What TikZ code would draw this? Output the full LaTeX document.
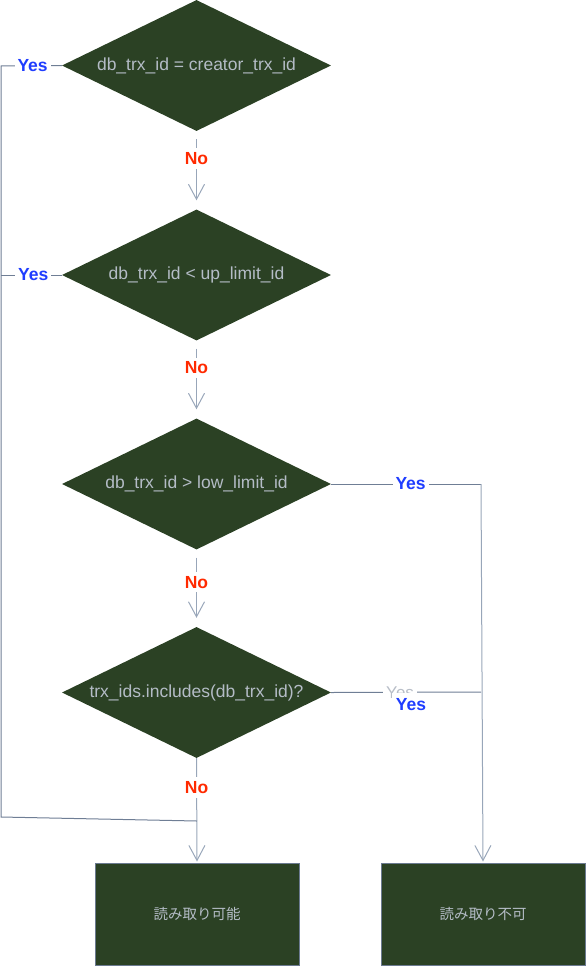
\documentclass[tikz,border=0pt]{standalone}
\usepackage{fontspec}
\setmainfont{Liberation Sans}
\newfontfamily\jpfont{Noto Sans CJK JP}
\usetikzlibrary{shapes.geometric,arrows.meta}
\definecolor{dgreen}{HTML}{2B4124}
\definecolor{txtgray}{HTML}{B4BCC6}
\definecolor{boxedge}{HTML}{6B7A90}
\definecolor{linedark}{HTML}{6F7E95}
\definecolor{linelight}{HTML}{98A6B9}
\definecolor{nored}{HTML}{FF2A00}
\definecolor{yesblue}{HTML}{1F3DFF}
\definecolor{yesgray}{HTML}{B8BEC8}
\begin{document}
\begin{tikzpicture}[x=1pt,y=-1pt,
  dia/.style={diamond,fill=dgreen,inner sep=0pt,minimum width=269pt,minimum height=131pt},
  dtext/.style={text=txtgray,font=\fontsize{17.5}{20}\selectfont,inner sep=0pt},
  box/.style={rectangle,fill=dgreen,draw=boxedge,line width=1pt,minimum width=204pt,minimum height=102pt,text=txtgray,font=\jpfont\fontsize{14.5}{17}\selectfont},
  conn/.style={draw=linedark,line width=1pt},
  arr/.style={draw=linelight,line width=1pt,-{Straight Barb[length=15pt,width=16pt]}},
  nolab/.style={fill=white,text=nored,font=\bfseries\fontsize{17.5}{20}\selectfont,inner sep=4pt},
  yeslab/.style={fill=white,text=yesblue,font=\bfseries\fontsize{17.5}{20}\selectfont,inner sep=3pt},
  yesgraylab/.style={fill=white,text=yesgray,font=\fontsize{17}{20}\selectfont,inner sep=3pt},
]
\useasboundingbox (0,0) rectangle (586,966);

% diamonds
\node[dia] (d1) at (196.5,65.5) {};
\node[dia] (d2) at (196.5,275) {};
\node[dia] (d3) at (196.5,484) {};
\node[dia] (d4) at (196.5,692.5) {};
\node[dtext] (t1) at (d1) {db\_trx\_id = creator\_trx\_id};
\node[dtext] (t2) at (d2) {db\_trx\_id < up\_limit\_id};
\node[dtext] (t3) at (d3) {db\_trx\_id > low\_limit\_id};
\node[dtext] (t4) at (d4) {trx\_ids.includes(db\_trx\_id)?};

% boxes
\node[box] (b1) at (197,914) {読み取り可能};
\node[box] (b2) at (483,914) {読み取り不可};

% coordinates
\coordinate (L1) at (1,66);
\coordinate (L2) at (1,817);
\coordinate (L3) at (1,275);
\coordinate (J) at (197,821);
\coordinate (R1) at (481,484);
\coordinate (R2) at (481,692);

% No edges
\draw[arr,shorten <=8pt,shorten >=9pt] (d1.south) -- node[nolab,pos=0.35] (n1) {No} (d2.north);
\draw[arr,shorten <=8pt,shorten >=9pt] (d2.south) -- node[nolab,pos=0.35] (n2) {No} (d3.north);
\draw[arr,shorten <=8pt,shorten >=9pt] (d3.south) -- node[nolab,pos=0.42] (n3) {No} (d4.north);
\draw[arr,shorten >=1pt] (d4.south) -- node[nolab,pos=0.28] (n4) {No} (b1.north);

% left Yes edges
\draw[conn] (d1.west) -- node[yeslab,pos=0.48] (y1) {Yes} (L1) -- (L2) -- (J);
\draw[conn] (d2.west) -- node[yeslab,pos=0.47] (y2) {Yes} (L3);

% right Yes edges
\draw[conn] (d3.east) -- node[yeslab,pos=0.53] (y3) {Yes} (R1);
\draw[arr,shorten >=1pt] (R1) -- (b2.north);
\draw[conn] (d4.east) -- node[yesgraylab,pos=0.46] (y4) {Yes} (R2);
\node[yeslab,inner xsep=4pt,inner ysep=6pt] (y5) at (411,705) {Yes};
\end{tikzpicture}
\end{document}
